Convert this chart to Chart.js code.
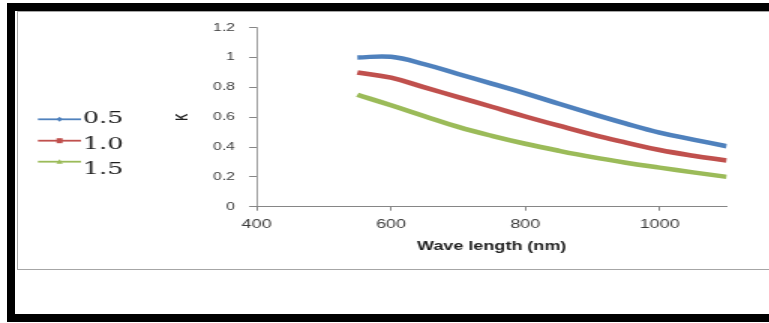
<!DOCTYPE html>
<html>
<head>
<meta charset="utf-8">
<script src="https://cdn.jsdelivr.net/npm/chart.js@4/dist/chart.umd.min.js"></script>
<style>
  body { margin: 0; background: #fff; }
  #page { position: relative; width: 769px; height: 323px; overflow: hidden; background: #fff; }
  .bar { position: absolute; background: #000; }
  #frame { position: absolute; left: 17px; top: 11px; width: 780px; height: 257px; border: 1px solid #a6a6a6; }
  #box { position: absolute; left: 18px; top: 12px; width: 501px; height: 257px;
         transform: scaleX(1.5); transform-origin: 0 0; }
</style>
</head>
<body>
<div id="page">
  <div id="frame"></div>
  <div class="bar" style="left:7px;top:3px;width:8px;height:319px"></div>
  <div class="bar" style="left:7px;top:3px;width:762px;height:8px"></div>
  <div class="bar" style="left:7px;top:314px;width:762px;height:8px"></div>
  <div id="box"><canvas id="kChart" width="501" height="257"></canvas></div>
</div>
<script>
// --- data ---
const wavelengths = [550, 600, 650, 700, 750, 800, 850, 900, 950, 1000, 1050, 1100];
const k05 = [1.00, 1.005, 0.955, 0.89, 0.825, 0.76, 0.69, 0.622, 0.557, 0.497, 0.45, 0.405];
const k10 = [0.90, 0.865, 0.80, 0.735, 0.67, 0.605, 0.543, 0.483, 0.43, 0.38, 0.342, 0.31];
const k15 = [0.75, 0.68, 0.607, 0.535, 0.475, 0.422, 0.375, 0.332, 0.295, 0.262, 0.23, 0.20];
const seriesNames = ['0.5', '1.0', '1.5'];
const xTicks = [400, 600, 800, 1000];
const yTicks = [0, 0.2, 0.4, 0.6, 0.8, 1, 1.2];

const colors = ['#4f81bd', '#c0504d', '#9bbb59'];
const markers = ['diamond', 'square', 'triangle'];

function pts(ys) {
  return wavelengths.map((x, i) => ({ x: x, y: ys[i] }));
}

// legend drawn like the spreadsheet one: line + marker, serif text
const sideLegend = {
  id: 'sideLegend',
  afterDraw(chart) {
    const ctx = chart.ctx;
    const lineY = [107.3, 128.7, 149.7];
    const textY = [107, 133, 158];
    ctx.save();
    chart.data.datasets.forEach((ds, i) => {
      ctx.strokeStyle = ds.borderColor;
      ctx.fillStyle = ds.borderColor;
      ctx.lineWidth = 1.8;
      ctx.beginPath();
      ctx.moveTo(13.3, lineY[i]);
      ctx.lineTo(42, lineY[i]);
      ctx.stroke();
      const cx = 27.7, cy = lineY[i];
      ctx.beginPath();
      if (markers[i] === 'diamond') {
        ctx.moveTo(cx, cy - 2.5); ctx.lineTo(cx + 2, cy); ctx.lineTo(cx, cy + 2.5); ctx.lineTo(cx - 2, cy);
      } else if (markers[i] === 'square') {
        ctx.rect(cx - 2, cy - 2.5, 4, 5);
      } else {
        ctx.moveTo(cx, cy - 2.5); ctx.lineTo(cx + 2.2, cy + 2); ctx.lineTo(cx - 2.2, cy + 2);
      }
      ctx.closePath();
      ctx.fill();
      ctx.fillStyle = '#1e1e1e';
      ctx.font = '17px "DejaVu Serif"';
      ctx.textAlign = 'left';
      ctx.textBaseline = 'middle';
      ctx.fillText(ds.label, 43.3, textY[i]);
    });
    ctx.restore();
  }
};

const ctx = document.getElementById('kChart').getContext('2d');
new Chart(ctx, {
  type: 'line',
  data: {
    datasets: [k05, k10, k15].map((ys, i) => ({
      label: seriesNames[i],
      data: pts(ys),
      borderColor: colors[i],
      backgroundColor: colors[i],
      borderWidth: 4.5,
      pointRadius: 0,
      tension: 0.4,
      fill: false
    }))
  },
  options: {
    responsive: false,
    animation: false,
    devicePixelRatio: 1,
    layout: { padding: { left: 104.7, right: 28.5, top: 13, bottom: 0 } },
    plugins: {
      legend: { display: false },
      tooltip: { enabled: false }
    },
    scales: {
      x: {
        type: 'linear',
        min: 400,
        max: 1100,
        afterBuildTicks: s => { s.ticks = xTicks.map(v => ({ value: v })); },
        afterFit: s => { s.height = 62.3; },
        ticks: {
          color: '#3c3c3c',
          font: { family: '"Liberation Sans"', size: 12 },
          padding: 7,
          maxRotation: 0,
          callback: v => String(v)
        },
        grid: { drawOnChartArea: false, drawTicks: true, tickLength: 4, color: '#868686' },
        border: { color: '#868686', width: 1 },
        title: {
          display: true,
          text: 'Wave length (nm)',
          color: '#1e1e1e',
          font: { family: '"Liberation Sans"', size: 12, weight: 'bold' },
          padding: { top: 0, bottom: 14.8 }
        }
      },
      y: {
        min: 0,
        max: 1.2,
        afterBuildTicks: s => { s.ticks = yTicks.map(v => ({ value: v })); },
        afterFit: s => { s.width = 54.4; },
        ticks: {
          color: '#3c3c3c',
          font: { family: '"Liberation Sans"', size: 10.5 },
          padding: 9.4,
          callback: v => String(Math.round(v * 10) / 10)
        },
        grid: { drawOnChartArea: false, drawTicks: true, tickLength: 5, color: '#868686' },
        border: { color: '#868686', width: 0.8 },
        title: {
          display: true,
          text: 'K',
          color: '#1e1e1e',
          font: { family: '"Liberation Sans"', size: 10, weight: 'bold' },
          padding: { top: 0, bottom: 0 }
        }
      }
    }
  },
  plugins: [sideLegend]
});
</script>
</body>
</html>
